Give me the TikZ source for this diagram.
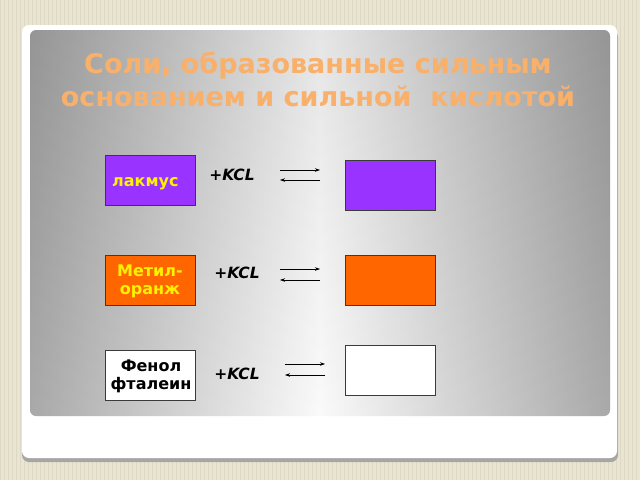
\documentclass[tikz,border=0pt]{standalone}
\usepackage{fontspec}
\setmainfont{DejaVu Sans}
\newfontfamily\titlefont{DejaVu Sans}
\usetikzlibrary{arrows.meta}
\definecolor{bgbeige}{HTML}{E9E5D3}
\definecolor{bgstripe}{HTML}{DCD8C3}
\definecolor{titleor}{HTML}{F8B06A}
\definecolor{litpurple}{HTML}{9933FF}
\definecolor{mo}{HTML}{FF6600}
\definecolor{panelgray}{HTML}{A2A2A2}
\definecolor{boxline}{HTML}{3A3A3A}
\tikzset{
  colbox/.style={draw=boxline, line width=0.9pt, minimum width=90pt, minimum height=50pt, inner sep=0pt},
  lbl/.style={font=\bfseries\fontsize{16}{18}\selectfont, align=center, inner sep=0pt},
  kcl/.style={font=\bfseries\itshape\fontsize{15.5}{17}\selectfont},
  eqarrow/.style={-{Stealth[length=5pt,width=3.5pt]}, line width=0.6pt}
}
\begin{document}
\begin{tikzpicture}[x=1pt,y=-1pt]
\useasboundingbox (0,0) rectangle (640,480);
% background
\fill[bgbeige] (0,0) rectangle (640,480);
\foreach \i in {0,4,...,640} { \draw[bgstripe, line width=0.6pt] (\i,0) -- (\i,480); }
% card shadow + card
\fill[gray!70, rounded corners=7pt] (22,30) rectangle (618,462);
\fill[white, rounded corners=7pt] (22,25) rectangle (617,458);
% panel
\shade[rounded corners=6pt, left color=panelgray, right color=panelgray, middle color=white!96!gray] (30,30) rectangle (610,416);
\shade[rounded corners=6pt, top color=black, bottom color=white, opacity=0.08] (30,30) rectangle (610,416);
% title
\node[font=\titlefont\bfseries\fontsize{27}{33}\selectfont, text=titleor, align=center] (title) at (318,79) {Соли, образованные сильным\\ основанием и сильной\ \ кислотой};
% row 1
\node[colbox, fill=litpurple] (l1) at (150,180) {};
\node[lbl, text=yellow, anchor=west] (t1) at (112,184) {лакмус};
\node[colbox, fill=litpurple] (r1) at (390,185) {};
\node[kcl] (k1) at (232,175) {+KCL};
\coordinate (a1s) at (280,170); \coordinate (a1e) at (320,170);
\coordinate (b1s) at (320,180); \coordinate (b1e) at (280,180);
\draw[eqarrow] (a1s) -- (a1e);
\draw[eqarrow] (b1s) -- (b1e);
% row 2
\node[colbox, fill=mo] (l2) at (150,280) {};
\node[lbl, text=yellow] (t2) at (150,281) {Метил-\\оранж};
\node[colbox, fill=mo] (r2) at (390,280) {};
\node[kcl] (k2) at (237,273) {+KCL};
\coordinate (a2s) at (280,269); \coordinate (a2e) at (320,269);
\coordinate (b2s) at (320,280); \coordinate (b2e) at (280,280);
\draw[eqarrow] (a2s) -- (a2e);
\draw[eqarrow] (b2s) -- (b2e);
% row 3
\node[colbox, fill=white] (l3) at (150,375) {};
\node[lbl, text=black] (t3) at (151,376) {Фенол\\фталеин};
\node[colbox, fill=white] (r3) at (390,370) {};
\node[kcl] (k3) at (237,374) {+KCL};
\coordinate (a3s) at (285,364); \coordinate (a3e) at (325,364);
\coordinate (b3s) at (325,375); \coordinate (b3e) at (285,375);
\draw[eqarrow] (a3s) -- (a3e);
\draw[eqarrow] (b3s) -- (b3e);
\end{tikzpicture}
\end{document}
